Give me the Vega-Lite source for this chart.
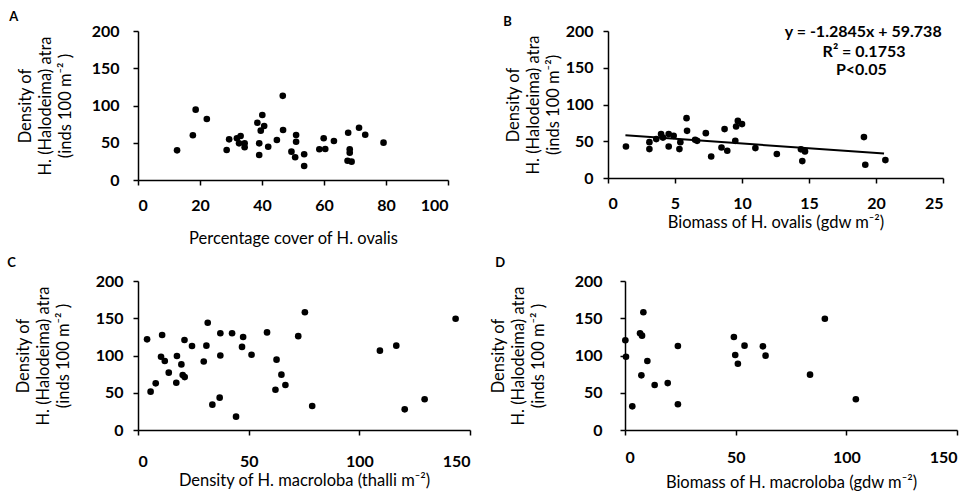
{
  "$schema": "https://vega.github.io/schema/vega-lite/v6.json",
  "usermeta": {"embedOptions": {"actions": false}},
  "background": "white",
  "padding": {"left": 7, "top": 11, "right": 5, "bottom": 0},
  "datasets": {
    "A": [
      {"x": 12.6, "y": 39.8}, {"x": 17.7, "y": 60}, {"x": 18.6, "y": 94.4}, {"x": 22.2, "y": 81.9},
      {"x": 28.6, "y": 40.3}, {"x": 29.4, "y": 54.6}, {"x": 31.9, "y": 56}, {"x": 33.1, "y": 59},
      {"x": 32.6, "y": 49.2}, {"x": 34.4, "y": 49.2}, {"x": 34.4, "y": 43.9}, {"x": 40.1, "y": 87.2},
      {"x": 38.5, "y": 76.9}, {"x": 40.7, "y": 72.5}, {"x": 39.6, "y": 66.2}, {"x": 39.1, "y": 49.2},
      {"x": 39.1, "y": 33.6}, {"x": 42, "y": 44.7}, {"x": 44.8, "y": 53.7}, {"x": 46.8, "y": 67.1},
      {"x": 46.7, "y": 113}, {"x": 49.5, "y": 38}, {"x": 51, "y": 60.4}, {"x": 51, "y": 51.4},
      {"x": 50.7, "y": 30.5}, {"x": 53.6, "y": 34.5}, {"x": 53.6, "y": 18.8}, {"x": 58.5, "y": 41.2},
      {"x": 59.9, "y": 56}, {"x": 60.4, "y": 41.6}, {"x": 63.2, "y": 52.3}, {"x": 67.8, "y": 63.5},
      {"x": 68.3, "y": 41.2}, {"x": 68.3, "y": 36.6}, {"x": 67.6, "y": 25.9}, {"x": 68.9, "y": 24.6},
      {"x": 71.3, "y": 70.2}, {"x": 73.3, "y": 60.8}, {"x": 79.2, "y": 50.1}
    ],
    "B": [
      {"x": 1.34, "y": 42.9}, {"x": 3.09, "y": 48.8}, {"x": 3.09, "y": 39.3}, {"x": 3.6, "y": 52.9},
      {"x": 3.96, "y": 59.7}, {"x": 4.53, "y": 59.7}, {"x": 4.9, "y": 57.4}, {"x": 4.1, "y": 55},
      {"x": 4.53, "y": 42.9}, {"x": 5.33, "y": 39.3}, {"x": 5.4, "y": 48.8}, {"x": 5.86, "y": 81.4},
      {"x": 5.9, "y": 64.2}, {"x": 6.5, "y": 52}, {"x": 6.65, "y": 50.6}, {"x": 7.3, "y": 61},
      {"x": 7.7, "y": 29.3}, {"x": 8.47, "y": 41.5}, {"x": 8.7, "y": 66.5}, {"x": 8.9, "y": 37},
      {"x": 9.5, "y": 50.6}, {"x": 9.56, "y": 70}, {"x": 9.69, "y": 77.7}, {"x": 10, "y": 73.3},
      {"x": 11, "y": 40.7}, {"x": 12.6, "y": 32.6}, {"x": 14.4, "y": 39}, {"x": 14.5, "y": 23},
      {"x": 14.7, "y": 36.2}, {"x": 19.1, "y": 55.7}, {"x": 19.2, "y": 18}, {"x": 20.7, "y": 24.4}
    ],
    "Bline": [{"x": 1.3, "y": 58.1}, {"x": 20.6, "y": 33.3}],
    "Btext": [
      {"x": 24.9, "y": 199, "t": "y = -1.2845x + 59.738"},
      {"x": 22.2, "y": 172, "t": "R² = 0.1753"},
      {"x": 20.8, "y": 147, "t": "P<0.05"}
    ],
    "C": [
      {"x": 4.1, "y": 121.7}, {"x": 5.7, "y": 51.5}, {"x": 8.0, "y": 62.6}, {"x": 10.4, "y": 98.4},
      {"x": 10.9, "y": 127.5}, {"x": 12.1, "y": 92.6}, {"x": 13.9, "y": 77}, {"x": 17.3, "y": 63.5},
      {"x": 17.6, "y": 99.3}, {"x": 19.6, "y": 88}, {"x": 20.2, "y": 73.8}, {"x": 21.1, "y": 71},
      {"x": 21, "y": 120.8}, {"x": 24.4, "y": 112.8}, {"x": 29.7, "y": 92}, {"x": 30.9, "y": 113.2},
      {"x": 31.5, "y": 144}, {"x": 33.6, "y": 34}, {"x": 36.9, "y": 43.4}, {"x": 37.2, "y": 100},
      {"x": 37.2, "y": 129.8}, {"x": 42.5, "y": 129.8}, {"x": 44.3, "y": 17.9}, {"x": 47, "y": 111.5},
      {"x": 47.5, "y": 124.8}, {"x": 51.3, "y": 101}, {"x": 58.3, "y": 131}, {"x": 62.1, "y": 54},
      {"x": 62.6, "y": 94.4}, {"x": 64.8, "y": 74.3}, {"x": 66.6, "y": 60.4}, {"x": 72.4, "y": 126},
      {"x": 75.4, "y": 158}, {"x": 78.7, "y": 32.2}, {"x": 109.3, "y": 106.5}, {"x": 116.7, "y": 113.2},
      {"x": 120.5, "y": 27.7}, {"x": 129.5, "y": 41.2}, {"x": 143.5, "y": 149.4}
    ],
    "D": [
      {"x": 0.15, "y": 120.4}, {"x": 0.45, "y": 98.4}, {"x": 3.3, "y": 31.8}, {"x": 6.8, "y": 129.8},
      {"x": 7.4, "y": 73.4}, {"x": 7.7, "y": 126.6}, {"x": 8.3, "y": 158}, {"x": 10.1, "y": 92.6},
      {"x": 13.4, "y": 60.4}, {"x": 19.3, "y": 63}, {"x": 23.9, "y": 112.8}, {"x": 23.9, "y": 34.5},
      {"x": 49.2, "y": 124.8}, {"x": 49.8, "y": 100.7}, {"x": 51, "y": 89}, {"x": 54, "y": 113.2},
      {"x": 62.3, "y": 112.3}, {"x": 63.5, "y": 99.8}, {"x": 83.6, "y": 74.3}, {"x": 90.3, "y": 149.4},
      {"x": 104.3, "y": 41.2}
    ]
  },
  "config": {
    "font": "Lato",
    "view": {"stroke": null},
    "axis": {
      "grid": false,
      "domainColor": "black",
      "domainWidth": 1.5,
      "tickColor": "black",
      "tickWidth": 1.5,
      "tickSize": 5,
      "labelColor": "black",
      "labelFont": "Lato",
      "labelFontWeight": "bold",
      "labelFontSize": 16,
      "labelOverlap": false,
      "labelBound": false,
      "titleColor": "black",
      "titleFont": "Lato",
      "titleFontWeight": "normal",
      "titleFontSize": 16.5
    },
    "axisY": {"titleLineHeight": 20},
    "title": {"fontSize": 13, "fontWeight": "bold", "font": "Lato", "anchor": "start", "frame": "bounds", "color": "black"},
    "point": {"filled": true, "color": "black", "opacity": 1, "size": 44}
  },
  "vconcat": [
    {
      "hconcat": [
        {
          "title": {"text": "A", "dx": -8, "offset": -1},
          "width": 310, "height": 149,
          "data": {"name": "A"},
          "mark": "point",
          "encoding": {
            "x": {"field": "x", "type": "quantitative", "scale": {"domain": [0, 100]}, "axis": {"values": [0, 20, 40, 60, 80, 100], "title": "Percentage cover of  H. ovalis", "labelPadding": 12, "titlePadding": 17}},
            "y": {"field": "y", "type": "quantitative", "scale": {"domain": [0, 200]}, "axis": {"values": [0, 50, 100, 150, 200], "title": ["Density of", "H. (Halodeima) atra", "(inds 100 m⁻² )"], "labelPadding": 14, "titlePadding": 18}}
          }
        },
        {
          "title": {"text": "B", "dx": -2, "offset": -6},
          "width": 335, "height": 147,
          "encoding": {
            "x": {"field": "x", "type": "quantitative", "scale": {"domain": [0, 25]}, "axis": {"values": [0, 5, 10, 15, 20, 25], "title": "Biomass of  H. ovalis (gdw m⁻²)", "labelPadding": 12, "titlePadding": 3}},
            "y": {"field": "y", "type": "quantitative", "scale": {"domain": [0, 200]}, "axis": {"values": [0, 50, 100, 150, 200], "title": ["Density of", "H. (Halodeima) atra", "(inds 100 m⁻²)"], "labelPadding": 10, "titlePadding": 4}}
          },
          "layer": [
            {
              "data": {"name": "B"},
              "mark": "point"
            },
            {
              "data": {"name": "Bline"},
              "mark": {"type": "line", "color": "black", "strokeWidth": 2}
            },
            {
              "data": {"name": "Btext"},
              "mark": {"type": "text", "fontSize": 16, "fontWeight": "bold", "font": "Lato", "color": "black", "align": "right"},
              "encoding": {"text": {"field": "t"}}
            }
          ]
        }
      ],
      "spacing": 54
    },
    {
      "hconcat": [
        {
          "title": {"text": "C", "dx": -8, "offset": 3},
          "width": 332, "height": 149,
          "data": {"name": "C"},
          "mark": "point",
          "encoding": {
            "x": {"field": "x", "type": "quantitative", "scale": {"domain": [0, 150]}, "axis": {"values": [0, 50, 100, 150], "title": "Density of H. macroloba (thalli m⁻²)", "labelPadding": 18, "titlePadding": 3}},
            "y": {"field": "y", "type": "quantitative", "scale": {"domain": [0, 200]}, "axis": {"values": [0, 50, 100, 150, 200], "title": ["Density of", "H. (Halodeima) atra", "(inds 100 m⁻² )"], "labelPadding": 10, "titlePadding": 24}}
          }
        },
        {
          "title": {"text": "D", "dx": 5, "offset": 3},
          "width": 332, "height": 149,
          "data": {"name": "D"},
          "mark": "point",
          "encoding": {
            "x": {"field": "x", "type": "quantitative", "scale": {"domain": [0, 150]}, "axis": {"values": [0, 50, 100, 150], "title": "Biomass of  H. macroloba (gdw m⁻²)", "labelPadding": 14, "titlePadding": 9}},
            "y": {"field": "y", "type": "quantitative", "scale": {"domain": [0, 200]}, "axis": {"values": [0, 50, 100, 150, 200], "title": ["Density of", "H. (Halodeima) atra", "(inds 100 m⁻² )"], "labelPadding": 18, "titlePadding": 28}}
          }
        }
      ],
      "spacing": 19
    }
  ],
  "spacing": 10
}
